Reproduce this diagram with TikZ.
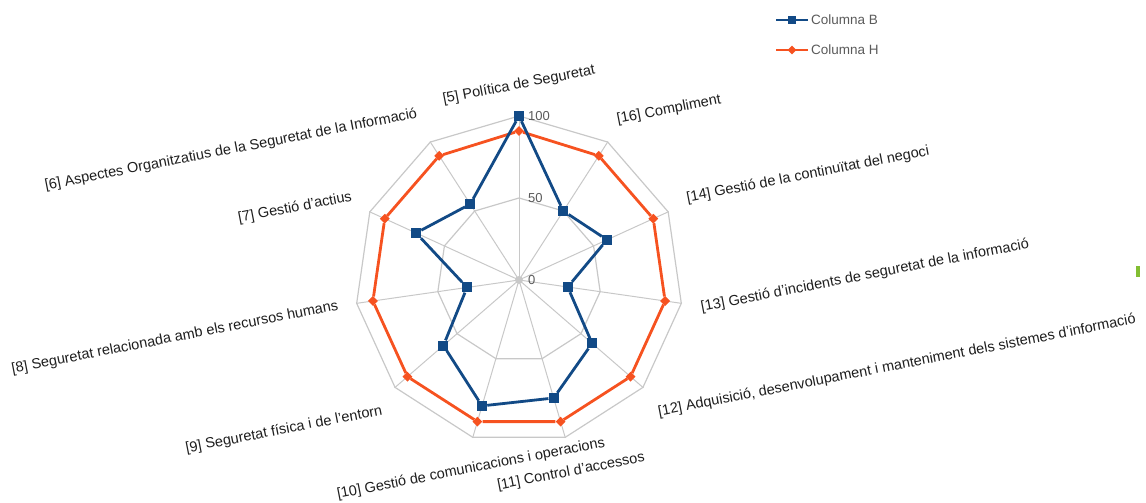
\documentclass[tikz,border=0pt]{standalone}
\usepackage{fontspec}
\setmainfont{Liberation Sans}
\usepackage{tikz}
\usetikzlibrary{shapes.geometric}
\usetikzlibrary{positioning}
\definecolor{colB}{RGB}{18,74,134}
\definecolor{colH}{RGB}{246,82,32}
\definecolor{gridgray}{RGB}{200,200,200}
\definecolor{labgray}{RGB}{30,30,30}
\definecolor{tickgray}{RGB}{90,90,90}
\definecolor{stubgreen}{RGB}{130,190,50}
\tikzstyle{ring} = [regular polygon, regular polygon sides=11, draw=gridgray, line width=1.2pt, inner sep=0pt]
\tikzstyle{spoke} = [-, draw=gridgray, line width=1pt]
\tikzstyle{serB} = [-, draw=colB, line width=2.8pt, line join=round]
\tikzstyle{serH} = [-, draw=colH, line width=2.8pt, line join=round]
\tikzstyle{markB} = [rectangle, fill=colB, minimum size=10pt, inner sep=0pt]
\tikzstyle{markH} = [diamond, fill=colH, minimum size=10pt, inner sep=0pt]
\tikzstyle{axlab} = [font=\fontsize{14.5}{16}\selectfont, text=labgray, rotate=11, inner sep=0pt]
\tikzstyle{ticklab} = [font=\fontsize{13}{15}\selectfont, text=tickgray, anchor=west, inner sep=0pt]
\tikzstyle{leglab} = [font=\fontsize{13.5}{15}\selectfont, text=tickgray, inner sep=0pt]

\begin{document}
\begin{tikzpicture}[x=1pt, y=1pt]
\useasboundingbox (0,0) rectangle (1146,503);
\coordinate (ctr) at (519,223);
% grid
\node [ring, minimum size=328pt] (r100) at (ctr) {};
\node [ring, minimum size=164pt] (r50) at (ctr) {};
\foreach \k in {1,...,11} \draw [spoke] (ctr) -- (r100.corner \k);
\node [circle, fill=gridgray, minimum size=8pt, inner sep=0pt] (ctrdot) at (ctr) {};
\node [ticklab] (t0) at (528,223) {0};
\node [ticklab] (t50) at (528,305) {50};
\node [ticklab] (t100) at (528,387) {100};
% Columna H
\begin{scope}[shift={(519,223)}]
\node [markH] (h5) at (90:149) {};
\node [markH] (h6) at (122.73:147.6) {};
\node [markH] (h7) at (155.45:147.6) {};
\node [markH] (h8) at (188.18:147.6) {};
\node [markH] (h9) at (220.91:147.6) {};
\node [markH] (h10) at (253.64:147.6) {};
\node [markH] (h11) at (286.36:147.6) {};
\node [markH] (h12) at (319.09:147.6) {};
\node [markH] (h13) at (351.82:147.6) {};
\node [markH] (h14) at (24.55:147.6) {};
\node [markH] (h16) at (57.27:147.6) {};
\end{scope}
\draw [serH] (h5) -- (h6) -- (h7) -- (h8) -- (h9) -- (h10) -- (h11) -- (h12) -- (h13) -- (h14) -- (h16) -- (h5);
% Columna B
\begin{scope}[shift={(519,223)}]
\node [markB] (b5) at (90:{100*1.64}) {};
\node [markB] (b6) at (122.73:{55*1.64}) {};
\node [markB] (b7) at (155.45:{69*1.64}) {};
\node [markB] (b8) at (188.18:{32*1.64}) {};
\node [markB] (b9) at (220.91:{61*1.64}) {};
\node [markB] (b10) at (253.64:{80*1.64}) {};
\node [markB] (b11) at (286.36:{75*1.64}) {};
\node [markB] (b12) at (319.09:{59*1.64}) {};
\node [markB] (b13) at (351.82:{30*1.64}) {};
\node [markB] (b14) at (24.55:{59*1.64}) {};
\node [markB] (b16) at (57.27:{50*1.64}) {};
\end{scope}
\draw [serB] (b5) -- (b6) -- (b7) -- (b8) -- (b9) -- (b10) -- (b11) -- (b12) -- (b13) -- (b14) -- (b16) -- (b5);
% axis labels
\node [axlab] (l5) at (519,418) {[5] Política de Seguretat};
\node [axlab] (l16) at (669,393) {[16] Compliment};
\node [axlab] (l14) at (808,328) {[14] Gestió de la continuïtat del negoci};
\node [axlab] (l13) at (865,227) {[13] Gestió d'incidents de seguretat de la informació};
\node [axlab] (l12) at (897,137) {[12] Adquisició, desenvolupament i manteniment dels sistemes d'informació};
\node [axlab] (l11) at (571,31) {[11] Control d'accessos};
\node [axlab] (l10) at (471,34) {[10] Gestió de comunicacions i operacions};
\node [axlab] (l9) at (284,73) {[9] Seguretat física i de l'entorn};
\node [axlab] (l8) at (175,165) {[8] Seguretat relacionada amb els recursos humans};
\node [axlab] (l7) at (295,295) {[7] Gestió d'actius};
\node [axlab] (l6) at (231,353) {[6] Aspectes Organitzatius de la Seguretat de la Informació};
% legend
\coordinate (lgB0) at (776,483);
\coordinate (lgB1) at (808,483);
\draw [serB, line width=2.4pt] (lgB0) -- (lgB1);
\node [markB, minimum size=8pt] (lgBm) at (792,483) {};
\node [leglab, right=3pt of lgB1] (lgBt) {Columna B};
\coordinate (lgH0) at (776,453);
\coordinate (lgH1) at (808,453);
\draw [serH, line width=2.4pt] (lgH0) -- (lgH1);
\node [markH, minimum size=9pt] (lgHm) at (792,453) {};
\node [leglab, right=3pt of lgH1] (lgHt) {Columna H};
% clipped stub at the right edge
\node [rectangle, fill=stubgreen, minimum width=4pt, minimum height=11pt, inner sep=0pt] (stub) at (1138,231) {};
\end{tikzpicture}
\end{document}
